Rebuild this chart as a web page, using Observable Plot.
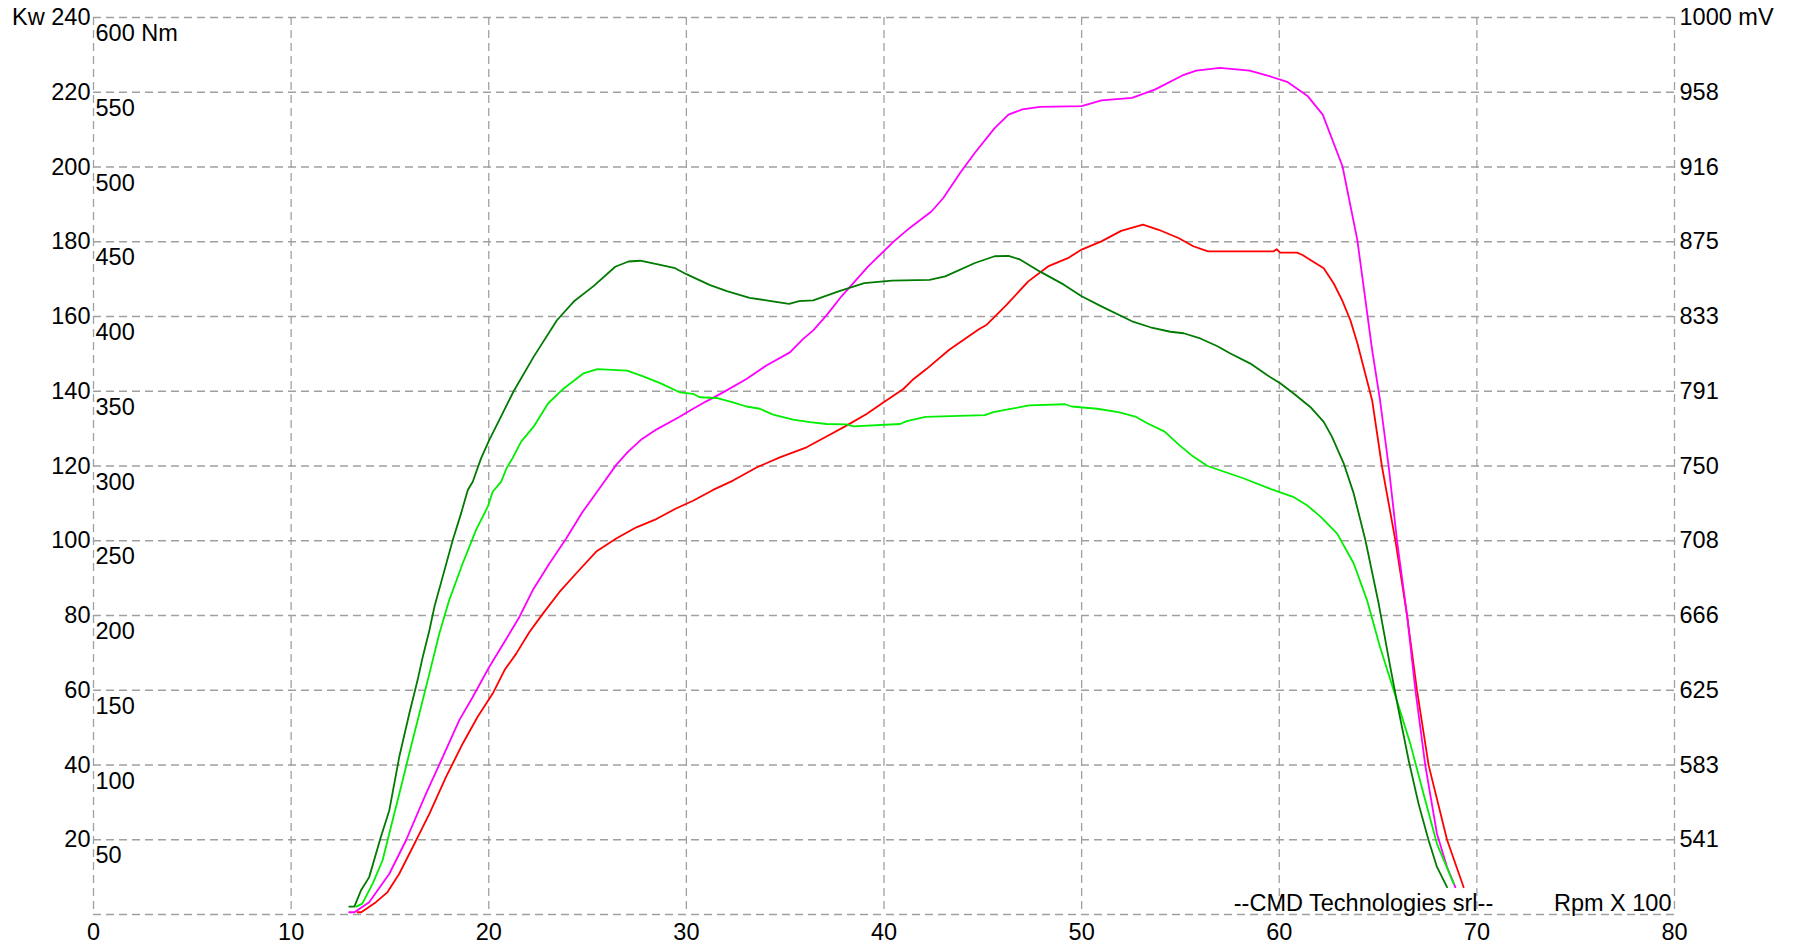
<!DOCTYPE html>
<html>
<head>
<meta charset="utf-8">
<script src="https://cdn.jsdelivr.net/npm/d3@7"></script>
<script src="https://cdn.jsdelivr.net/npm/@observablehq/plot@0.6"></script>
<style>
  html, body { margin: 0; padding: 0; background: #ffffff; }
</style>
</head>
<body>
<div id="chart"></div>
<script>
// ---- axis ticks ----
const rpmTicks = [0, 10, 20, 30, 40, 50, 60, 70, 80];
const kwTicks = [0, 20, 40, 60, 80, 100, 120, 140, 160, 180, 200, 220, 240];
const nmTicks = [50, 100, 150, 200, 250, 300, 350, 400, 450, 500, 550, 600];
const mvMin = 500, mvMax = 1000;
const footerText = "--CMD Technologies srl--";
const rpmUnitText = "Rpm X 100";

// ---- tuned torque (Nm), dark green ----
const tunedTorqueRpm = [12.94, 13.2, 13.53, 13.95, 14.54, 14.97, 15.47, 15.98, 16.4, 16.66, 17.0, 17.25, 17.67, 18.18, 18.6, 18.94, 19.19, 19.61, 20.03, 20.6, 21.26, 22.27, 23.45, 24.3, 25.3, 26.4, 27.07, 27.66, 28.5, 29.43, 30.0, 31.2, 32.05, 33.2, 34.2, 35.2, 35.7, 36.42, 37.7, 39.0, 40.4, 42.3, 43.1, 44.6, 45.6, 46.3, 46.9, 47.9, 49.1, 50.0, 51.0, 52.55, 53.48, 54.49, 55.16, 56.0, 56.85, 57.53, 58.54, 59.38, 60.05, 60.73, 61.57, 62.25, 62.67, 63.26, 63.77, 64.36, 65.03, 65.62, 66.04, 66.55, 67.05, 67.56, 67.98, 68.49];
const tunedTorqueNm = [5.3, 5.3, 16, 25, 51.8, 69.8, 105.3, 134.4, 156.8, 172.3, 190.3, 205.8, 226, 250.5, 268.3, 284, 289.5, 305.1, 317.5, 332.5, 350, 373, 397.5, 410, 420.3, 433.3, 436.8, 437.3, 435, 432.3, 428.3, 421, 417, 412.5, 410.5, 408.5, 410.3, 410.8, 416.8, 422.3, 424, 424.5, 426.8, 435.8, 440.3, 440.6, 438, 430, 421.3, 413.5, 406.8, 396.8, 392.8, 389.8, 388.8, 385.3, 380.3, 375.3, 368.5, 360.8, 355.3, 348.5, 339.5, 329.5, 319.5, 301.8, 281.5, 250.3, 208, 165.5, 136.5, 103, 74, 49.5, 31.8, 18.3];

// ---- stock torque (Nm), light green ----
const stockTorqueRpm = [13.3, 13.6, 14.12, 14.63, 15.05, 15.56, 16.06, 16.49, 17.0, 17.5, 18.0, 18.68, 19.36, 19.95, 20.2, 20.63, 20.9, 21.2, 21.64, 22.27, 23.0, 23.7, 24.8, 25.5, 27.0, 27.85, 28.7, 29.66, 30.34, 30.68, 31.52, 32.36, 33.04, 33.72, 34.39, 35.4, 36.25, 37.09, 38.1, 38.45, 40.81, 41.15, 42.1, 45.1, 45.54, 46.26, 47.35, 49.15, 49.5, 50.78, 51.86, 52.76, 53.3, 54.2, 54.93, 55.65, 56.37, 58.18, 59.62, 60.7, 61.4, 62.1, 62.93, 63.77, 64.44, 65.1, 65.79, 66.63, 67.3, 67.98, 68.83];
const stockTorqueNm = [5.3, 7.3, 20.5, 36.3, 58.5, 85.3, 112, 134.4, 161.3, 188, 210.3, 234.8, 257.3, 272.8, 282.8, 289.5, 298.5, 305.1, 316.3, 326.3, 341.8, 350.8, 362, 364.8, 363.8, 359.8, 355.3, 349.3, 348.3, 346, 345.5, 342.6, 339.8, 338.3, 334.4, 331, 329.3, 328.1, 327.8, 326.5, 328.1, 330, 332.8, 334, 336, 337.8, 340.5, 341.3, 339.8, 338.3, 336, 332.8, 328.8, 323, 314.1, 306.3, 300, 291.8, 284.3, 279.4, 273.8, 266, 254.8, 234.8, 210.3, 179, 150, 114.3, 80.8, 47.3, 20.5];

// ---- tuned power (kW), magenta ----
const tunedPowerRpm = [12.94, 13.2, 13.95, 14.97, 15.81, 16.82, 17.67, 18.51, 19.19, 20.03, 20.7, 21.55, 22.23, 23.07, 23.92, 24.76, 25.6, 26.45, 27.04, 27.7, 28.5, 29.66, 30.34, 31.01, 31.86, 33.04, 34.05, 35.24, 35.91, 36.42, 37.09, 37.85, 39.2, 40.5, 41.3, 42.4, 43.0, 43.85, 44.6, 45.6, 46.3, 47.0, 47.9, 50.0, 51.0, 52.55, 53.7, 55.1, 55.8, 57.0, 58.5, 59.5, 60.4, 61.45, 62.2, 63.2, 63.95, 64.7, 65.1, 65.54, 65.96, 66.47, 66.89, 67.39, 67.98, 68.49, 68.91];
const tunedPowerKw = [0.6, 0.6, 3.3, 10.9, 19.8, 32.3, 42.1, 52, 58.2, 66.3, 72.1, 79.6, 86.8, 93.9, 100.6, 107.8, 114, 120.3, 123.8, 127, 129.8, 133.2, 135.3, 137.3, 139.7, 143.3, 146.9, 150.4, 154, 156.3, 160.3, 165.4, 173.4, 180.1, 183.7, 188.1, 191.7, 198.4, 203.8, 210.4, 214, 215.4, 216.1, 216.3, 217.8, 218.5, 220.7, 224.5, 225.8, 226.5, 225.8, 224.3, 222.8, 218.9, 214, 200.2, 180.5, 151.1, 137.6, 119.8, 100, 79.9, 60, 39.9, 21.6, 12.7, 7.3];

// ---- stock power (kW), red ----
const stockPowerRpm = [13.36, 13.55, 14.29, 14.88, 15.47, 16.15, 17.0, 17.84, 18.68, 19.44, 20.2, 20.8, 21.39, 22.06, 22.74, 23.58, 24.43, 25.44, 26.45, 27.47, 28.48, 29.5, 30.34, 31.35, 32.36, 33.55, 34.73, 36.08, 37.09, 38.1, 39.12, 40.0, 40.98, 41.5, 42.16, 43.3, 44.8, 45.2, 46.2, 47.3, 48.3, 49.3, 50.0, 51.0, 52.0, 53.1, 53.9, 54.9, 55.65, 56.4, 59.7, 59.87, 60.05, 60.9, 61.2, 61.74, 62.25, 62.75, 63.18, 63.6, 63.95, 64.7, 65.2, 65.88, 66.47, 66.97, 67.56, 68.49, 69.33];
const stockPowerKw = [0.6, 0.6, 3.3, 6.0, 10.9, 18, 27, 36.8, 45.7, 52.9, 59.1, 65.4, 69.8, 75.6, 80.5, 86.3, 91.3, 97.1, 100.6, 103.6, 105.8, 108.7, 110.7, 113.6, 116.1, 119.6, 122.3, 125, 127.9, 130.8, 133.9, 137.1, 140.6, 143.3, 146, 151.1, 156.6, 157.8, 163.1, 169.4, 173.4, 175.6, 177.9, 180.1, 182.9, 184.6, 183.2, 181, 178.8, 177.4, 177.4, 178, 177.1, 177.1, 176.4, 174.6, 172.9, 168.9, 164.4, 159, 152.9, 137.6, 119.8, 100, 79.9, 60, 39.9, 20, 7.3];

// torque is read on the Nm axis, which shares gridlines with kW (600 Nm = 240 kW)
const nmPerKw = 600 / 240;
const series = (xs, ys, k) => xs.map((x, i) => ({rpm: x, v: ys[i] / k}));
const tunedTorque = series(tunedTorqueRpm, tunedTorqueNm, nmPerKw);
const stockTorque = series(stockTorqueRpm, stockTorqueNm, nmPerKw);
const tunedPower = series(tunedPowerRpm, tunedPowerKw, 1);
const stockPower = series(stockPowerRpm, stockPowerKw, 1);

const kwToMv = (kw) => Math.floor(mvMin + kw * (mvMax - mvMin) / 240);
const labelTicks = kwTicks.filter(d => d > 0);
const gridStyle = {stroke: "#a0a0a0", strokeOpacity: 1, strokeWidth: 1.3, strokeDasharray: "8,5"};
const lineWidth = 1.8;

const chart = Plot.plot({
  width: 1797,
  height: 944,
  marginLeft: 93,
  marginRight: 123,
  marginTop: 17,
  marginBottom: 30,
  style: {fontFamily: "'Liberation Sans', Arial, sans-serif", fontSize: "23.5px", color: "#000", background: "#ffffff"},
  x: {domain: [0, 80], label: null},
  y: {domain: [0, 240], label: null},
  marks: [
    Plot.gridX(rpmTicks, gridStyle),
    Plot.gridY(kwTicks, gridStyle),
    Plot.axisX(rpmTicks, {anchor: "bottom", tickSize: 0, tickPadding: 9, fontSize: 23.5, label: null, tickFormat: d => String(d)}),
    Plot.axisY(labelTicks, {anchor: "left", tickSize: 0, tickPadding: 3, fontSize: 23.5, label: null, tickFormat: d => d === 240 ? "Kw 240" : String(d)}),
    Plot.axisY(labelTicks, {anchor: "right", tickSize: 0, tickPadding: 5, fontSize: 23.5, label: null, tickFormat: d => d === 240 ? `${kwToMv(d)} mV` : String(kwToMv(d))}),
    Plot.text(nmTicks, {y: d => d / nmPerKw, text: d => d === 600 ? "600 Nm" : String(d), frameAnchor: "left", textAnchor: "start", lineAnchor: "top", dx: 2, dy: 7, fontSize: 23.5, fill: "#000"}),
    Plot.text([footerText], {text: d => d, frameAnchor: "bottom-right", textAnchor: "middle", lineAnchor: "bottom", dx: -311, dy: -4, fontSize: 23.5, fill: "#000"}),
    Plot.text([rpmUnitText], {text: d => d, frameAnchor: "bottom-right", textAnchor: "end", lineAnchor: "bottom", dx: -3, dy: -4, fontSize: 23.5, fill: "#000"}),
    Plot.line(stockPower, {x: "rpm", y: "v", stroke: "#ff0000", strokeWidth: lineWidth}),
    Plot.line(tunedPower, {x: "rpm", y: "v", stroke: "#ff00ff", strokeWidth: lineWidth}),
    Plot.line(stockTorque, {x: "rpm", y: "v", stroke: "#00ee00", strokeWidth: lineWidth}),
    Plot.line(tunedTorque, {x: "rpm", y: "v", stroke: "#007a00", strokeWidth: lineWidth})
  ]
});
document.getElementById("chart").appendChild(chart);
</script>
</body>
</html>
